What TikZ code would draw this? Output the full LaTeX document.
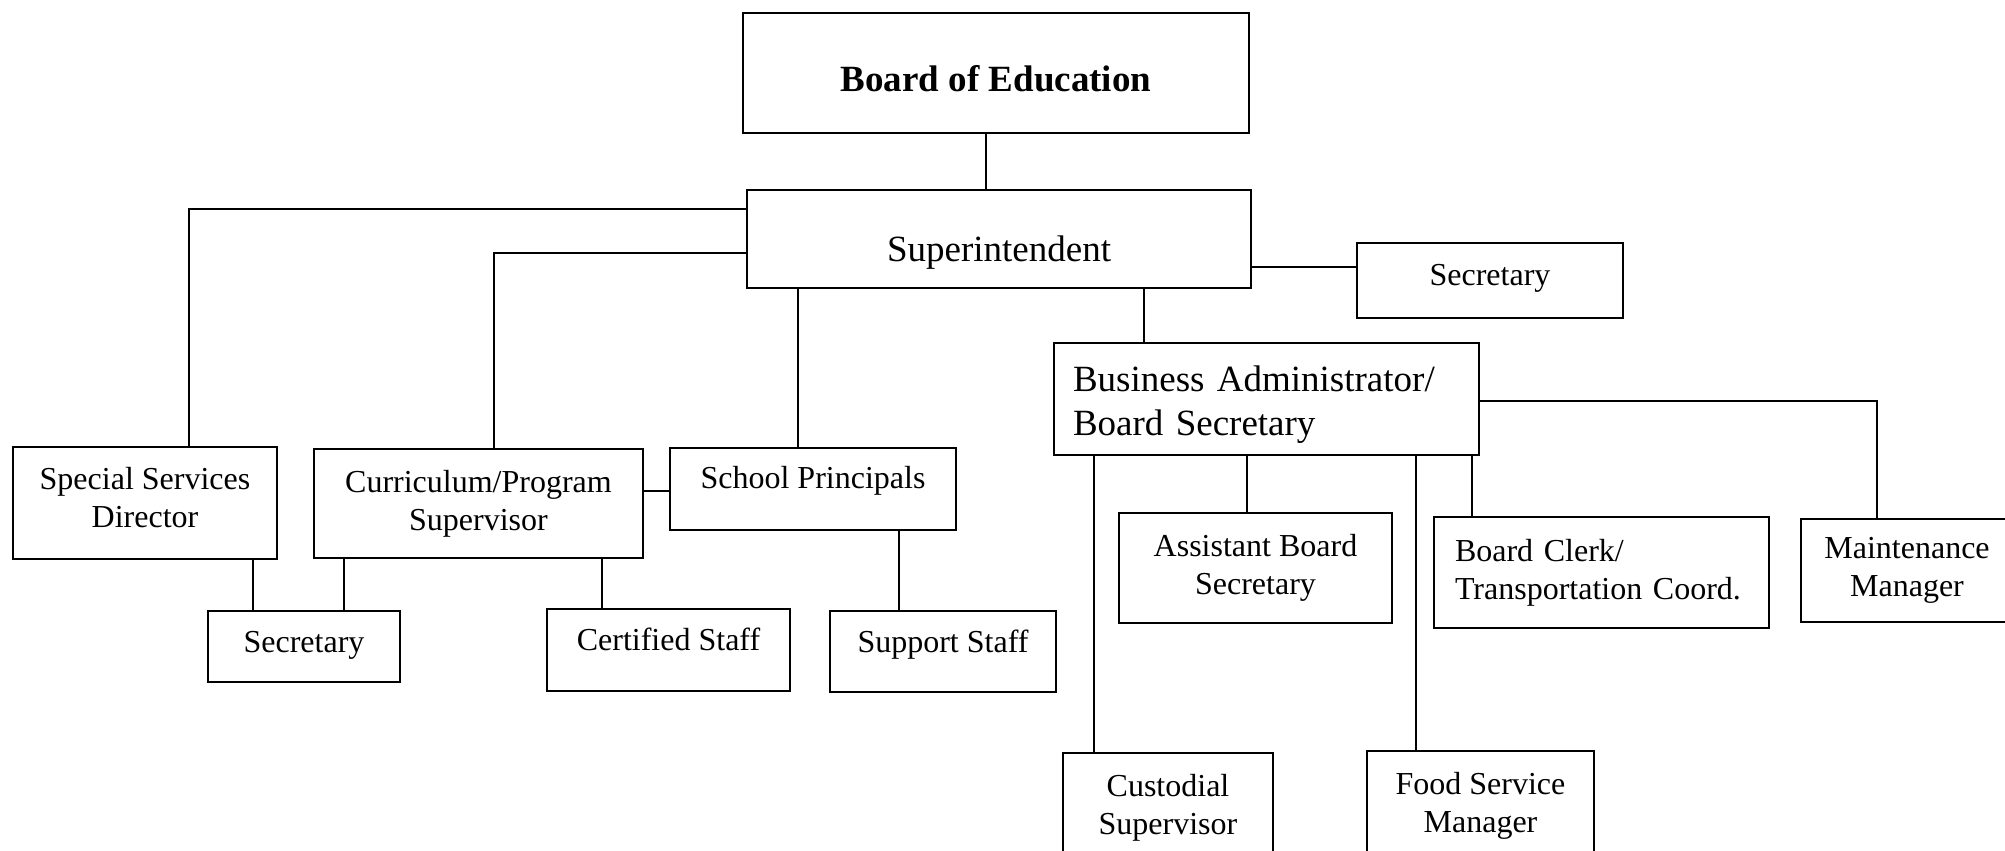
\documentclass[tikz,border=0pt]{standalone}
\usepackage{fontspec}
\setmainfont{Liberation Serif}
\usepackage{tikz}

\tikzset{
  link/.style={line width=1.8pt},
  lift/.style={text height=22pt,text depth=#1},
  bigtext/.style={font=\fontsize{37}{44}\selectfont}
}

\begin{document}
\begin{tikzpicture}
		[x=1pt,y=-1pt,every node/.style={draw,line width=2.2pt,inner sep=0pt,align=center,font=\fontsize{32}{38}\selectfont}]
		\clip (0,0) rectangle (2005,851);
		\fill[white] (0,0) rectangle (2005,851);
		\node[minimum width=506pt,minimum height=120pt,font=\fontsize{37}{44}\selectfont\bfseries,text height=38pt,text depth=0pt] (board) at (996,73) {Board of Education};
		\node[minimum width=504pt,minimum height=98pt,bigtext,text height=52pt,text depth=8pt] (sup) at (999,239) {Superintendent};
		\node[minimum width=266pt,minimum height=75pt,lift=13pt] (sec1) at (1490,280.5) {Secretary};
		\node[minimum width=425pt,minimum height=112pt,text width=387pt,align=left,bigtext,text height=36pt,text depth=52pt] (bus) at (1266.5,399) {Business Administrator/\\Board Secretary};
		\node[minimum width=264pt,minimum height=112pt,text height=60pt,text depth=12pt] (ssd) at (145,503) {Special Services\\Director};
		\node[minimum width=329pt,minimum height=109pt] (cur) at (478.5,503.5) {Curriculum/Program\\Supervisor};
		\node[minimum width=286pt,minimum height=82pt,lift=24pt] (sch) at (813,489) {School Principals};
		\node[minimum width=192pt,minimum height=71pt,lift=11pt] (sec2) at (304,646.5) {Secretary};
		\node[minimum width=243pt,minimum height=82pt,lift=22pt] (cert) at (668.5,650) {Certified Staff};
		\node[minimum width=226pt,minimum height=81pt,lift=20pt] (supp) at (943,651.5) {Support Staff};
		\node[minimum width=273pt,minimum height=110pt] (asst) at (1255.5,568) {Assistant Board\\Secretary};
		\node[minimum width=335pt,minimum height=111pt,text width=293pt,align=left] (clerk) at (1601.5,572.5) {Board Clerk/\\Transportation Coord.};
		\node[minimum width=212pt,minimum height=103pt] (maint) at (1907,570.5) {Maintenance\\Manager};
		\node[minimum width=210pt,minimum height=110pt] (cust) at (1168,808) {Custodial\\Supervisor};
		\node[minimum width=227pt,minimum height=110pt] (food) at (1480.5,806) {Food Service\\Manager};
		
		\foreach \from/\to/\x in 
		{board/sup/986, sup/sch/798, sup/bus/1144, ssd/sec2/253, cur/sec2/344, cur/cert/602,
		 sch/supp/899, bus/cust/1094, bus/asst/1247, bus/food/1416, bus/clerk/1472}
		\draw[link] (\from.south -| \x,0) -- (\to.north -| \x,0);
		
		\foreach \from/\to/\y in 
		{sup/sec1/267, cur/sch/491}
		\draw[link] (\from.east |- 0,\y) -- (\to.west |- 0,\y);
		
		\draw[link] (sup.west |- 0,209) -| (ssd.north -| 189,0);
		\draw[link] (sup.west |- 0,253) -| (cur.north -| 494,0);
		\draw[link] (bus.east |- 0,401) -| (maint.north -| 1877,0);
		\end{tikzpicture}
\end{document}
